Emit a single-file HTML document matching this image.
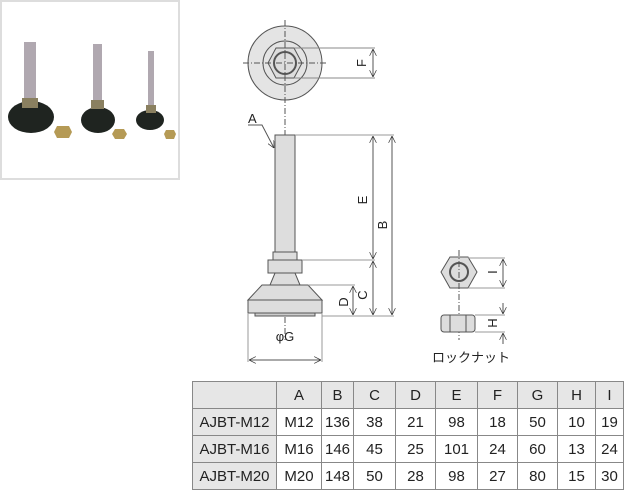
<!DOCTYPE html>
<html><head><meta charset="utf-8"><style>
body{margin:0;width:640px;height:498px;background:#fff;position:relative;overflow:hidden;font-family:"Liberation Sans","Noto Sans CJK JP",sans-serif}
.photo{position:absolute;left:0;top:0;width:180px;height:180px;border:2px solid #ddd;box-sizing:border-box;background:#fff}
table{position:absolute;left:192px;top:381px;border-collapse:collapse;font-size:15px;color:#222;table-layout:fixed;width:431px}
td{border:1px solid #888;text-align:center;height:26px;padding:0;overflow:hidden;white-space:nowrap}
tr:first-child td{background:#e6e6e6}
td:first-child{background:#e6e6e6}
</style></head><body>
<div class="photo">
<svg width="176" height="176">
<g><ellipse cx="29" cy="115" rx="23" ry="16" fill="#1f2420"/><rect x="22" y="40" width="12" height="57" fill="#b0a8b0"/><rect x="20" y="96" width="16" height="10" fill="#8a8060"/>
<ellipse cx="96" cy="118" rx="17" ry="13" fill="#1f2420"/><rect x="91" y="42" width="9" height="58" fill="#b0a8b0"/><rect x="89" y="98" width="13" height="9" fill="#8a8060"/>
<ellipse cx="148" cy="118" rx="14" ry="10" fill="#1f2420"/><rect x="146" y="49" width="6" height="57" fill="#b0a8b0"/><rect x="144" y="103" width="10" height="8" fill="#8a8060"/>
<polygon points="55,124 67,124 70,130 67,136 55,136 52,130" fill="#b59a55"/>
<polygon points="113,127 122,127 125,132 122,137 113,137 110,132" fill="#b59a55"/>
<polygon points="164,128 172,128 174,132 172,137 164,137 162,132" fill="#b59a55"/></g>
</svg></div>
<svg width="640" height="498" style="position:absolute;left:0;top:0" font-family="Liberation Sans" font-size="12" fill="#222">
<defs><marker id="a" viewBox="0 0 10 10" refX="10" refY="5" markerWidth="7" markerHeight="7" orient="auto-start-reverse"><path d="M0,0L10,5L0,10" fill="none" stroke="#333" stroke-width="1"/></marker></defs>
<g stroke="#555" stroke-width="1">
<circle cx="285" cy="63" r="37" fill="#e4e4e4"/>
<circle cx="285" cy="63" r="22" fill="none"/>
<polygon points="268,63 276,48 294,48 302,63 294,78 276,78" fill="#ddd"/>
<circle cx="285" cy="63" r="11" fill="none" stroke-width="2"/>
<line x1="285" y1="20" x2="285" y2="340" stroke-dasharray="6,2,1,2"/>
<line x1="243" y1="63" x2="327" y2="63" stroke-dasharray="6,2,1,2"/>
<line x1="294" y1="48" x2="375" y2="48" stroke="#888"/><line x1="294" y1="78" x2="375" y2="78" stroke="#888"/>
<line x1="373" y1="49" x2="373" y2="77" marker-start="url(#a)" marker-end="url(#a)"/>
<rect x="275" y="135" width="20" height="117" fill="#ddd"/>
<rect x="273" y="252" width="24" height="8" fill="#ddd"/>
<rect x="268" y="260" width="34" height="13" fill="#ddd"/>
<polygon points="275,273 295,273 300,285 270,285" fill="#ddd"/>
<polygon points="262,285 308,285 322,300 248,300" fill="#ddd"/>
<rect x="248" y="300" width="74" height="13" fill="#ddd"/>
<rect x="255" y="313" width="60" height="3" fill="#ccc"/>
<g stroke="#999"><line x1="295" y1="135" x2="394" y2="135"/><line x1="302" y1="260" x2="375" y2="260"/><line x1="308" y1="285" x2="355" y2="285"/><line x1="322" y1="316" x2="394" y2="316"/>
<line x1="248" y1="313" x2="248" y2="362"/><line x1="322" y1="313" x2="322" y2="362"/></g>
<line x1="373" y1="136" x2="373" y2="259" marker-start="url(#a)" marker-end="url(#a)"/>
<line x1="373" y1="261" x2="373" y2="315" marker-start="url(#a)" marker-end="url(#a)"/>
<line x1="392" y1="136" x2="392" y2="315" marker-start="url(#a)" marker-end="url(#a)"/>
<line x1="353" y1="286" x2="353" y2="315" marker-start="url(#a)" marker-end="url(#a)"/>
<line x1="249" y1="360" x2="321" y2="360" marker-start="url(#a)" marker-end="url(#a)"/>
<polyline points="248,125 262,125 274,148" fill="none" marker-end="url(#a)"/>
<polygon points="441,272 450,257 468,257 477,272 468,288 450,288" fill="#ddd"/>
<circle cx="459" cy="272" r="9" fill="none" stroke-width="2"/>
<line x1="459" y1="250" x2="459" y2="340" stroke-dasharray="6,2,1,2"/>
<line x1="468" y1="258" x2="505" y2="258" stroke="#999"/><line x1="468" y1="288" x2="505" y2="288" stroke="#999"/>
<line x1="503" y1="259" x2="503" y2="287" marker-start="url(#a)" marker-end="url(#a)"/>
<rect x="441" y="315" width="34" height="17" rx="3" fill="#ddd"/>
<line x1="450" y1="315" x2="450" y2="332"/><line x1="466" y1="315" x2="466" y2="332"/>
<line x1="475" y1="315" x2="505" y2="315" stroke="#999"/><line x1="475" y1="332" x2="505" y2="332" stroke="#999"/>
<line x1="503" y1="303" x2="503" y2="314" marker-end="url(#a)"/><line x1="503" y1="344" x2="503" y2="333" marker-end="url(#a)"/>
</g>
<text x="248" y="123" font-size="13">A</text>
<text transform="translate(366,63) rotate(-90)" text-anchor="middle" font-size="13">F</text>
<text transform="translate(367,200) rotate(-90)" text-anchor="middle" font-size="13">E</text>
<text transform="translate(387,225) rotate(-90)" text-anchor="middle" font-size="13">B</text>
<text transform="translate(367,295) rotate(-90)" text-anchor="middle" font-size="13">C</text>
<text transform="translate(348,302) rotate(-90)" text-anchor="middle" font-size="13">D</text>
<text transform="translate(497,272) rotate(-90)" text-anchor="middle" font-size="13">I</text>
<text transform="translate(497,323) rotate(-90)" text-anchor="middle" font-size="13">H</text>
<text x="285" y="341" text-anchor="middle" font-size="13">φG</text>
<text x="432" y="362" font-family="Noto Sans CJK JP" font-size="13">ロックナット</text>
</svg>
<table>
<colgroup><col style="width:84px"><col style="width:45px"><col style="width:32px"><col style="width:42px"><col style="width:40px"><col style="width:42px"><col style="width:40px"><col style="width:40px"><col style="width:38px"><col style="width:28px"></colgroup>
<tr><td></td><td>A</td><td>B</td><td>C</td><td>D</td><td>E</td><td>F</td><td>G</td><td>H</td><td>I</td></tr>
<tr><td>AJBT-M12</td><td>M12</td><td>136</td><td>38</td><td>21</td><td>98</td><td>18</td><td>50</td><td>10</td><td>19</td></tr>
<tr><td>AJBT-M16</td><td>M16</td><td>146</td><td>45</td><td>25</td><td>101</td><td>24</td><td>60</td><td>13</td><td>24</td></tr>
<tr><td>AJBT-M20</td><td>M20</td><td>148</td><td>50</td><td>28</td><td>98</td><td>27</td><td>80</td><td>15</td><td>30</td></tr>
</table>
</body></html>
